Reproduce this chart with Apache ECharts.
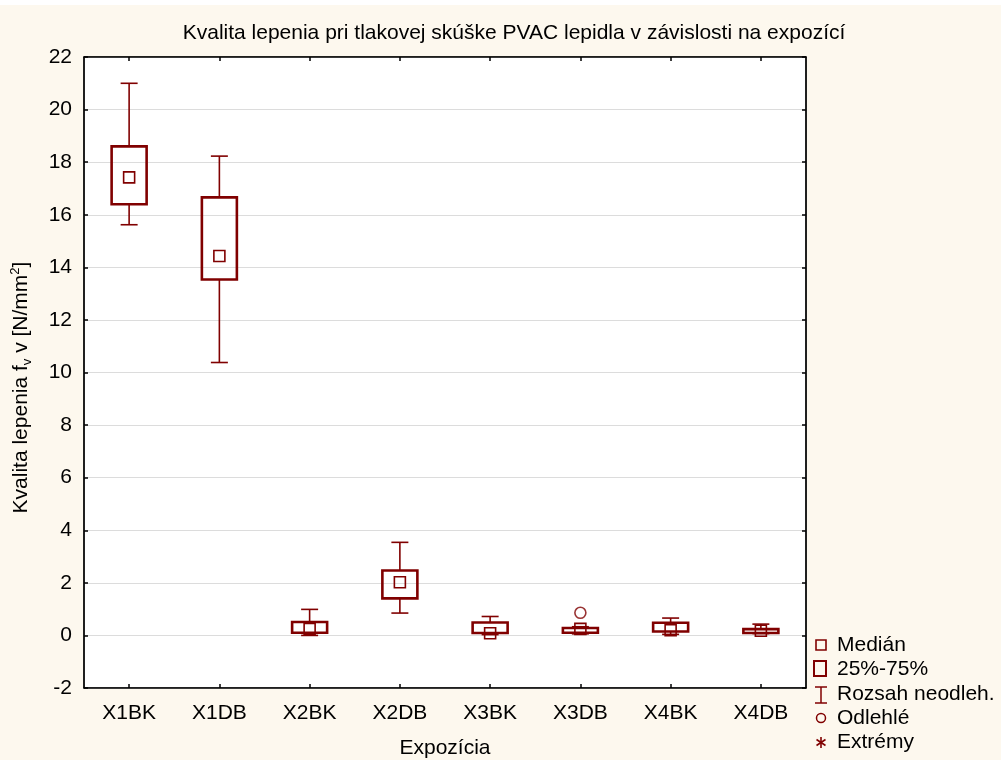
<!DOCTYPE html>
<html><head><meta charset="utf-8">
<script src="https://cdn.jsdelivr.net/npm/echarts@6/dist/echarts.min.js"></script>
<style>html,body{margin:0;padding:0;background:#fdf8ee}#c{width:1001px;height:760px}</style>
</head><body><div id="c"></div>
<script>
const categories = ['X1BK','X1DB','X2BK','X2DB','X3BK','X3DB','X4BK','X4DB'];
const whiskerLow  = [15.62, 10.38, 0.00, 0.85, 0.03, 0.06, 0.04, 0.07];
const q1          = [16.40, 13.54, 0.10, 1.41, 0.09, 0.10, 0.15, 0.09];
const median      = [17.42, 14.43, 0.25, 2.02, 0.08, 0.25, 0.20, 0.18];
const q3          = [18.60, 16.66, 0.51, 2.47, 0.49, 0.28, 0.48, 0.24];
const whiskerHigh = [21.00, 18.23, 0.99, 3.54, 0.72, 0.33, 0.66, 0.43];
const outliers    = [['X3DB', 0.86]];
const yTicks = {min: -2, max: 22, interval: 2};

const RED = '#800000';
const FONT = 'Liberation Sans, Arial, sans-serif';
const FS = 21;
const boxData = categories.map((c, i) => [i, whiskerLow[i], q1[i], median[i], q3[i], whiskerHigh[i]]);

function renderBox(params, api) {
  const i = api.value(0);
  const pLow = api.coord([i, api.value(1)]);
  const pQ1 = api.coord([i, api.value(2)]);
  const pMed = api.coord([i, api.value(3)]);
  const pQ3 = api.coord([i, api.value(4)]);
  const pHigh = api.coord([i, api.value(5)]);
  const x = pMed[0];
  const bw = 35, cw = 17, ms = 11;
  const thin = {stroke: RED, lineWidth: 1.6, fill: null};
  return {
    type: 'group',
    children: [
      {type: 'line', shape: {x1: x, y1: pHigh[1], x2: x, y2: pQ3[1]}, style: thin},
      {type: 'line', shape: {x1: x - cw/2, y1: pHigh[1], x2: x + cw/2, y2: pHigh[1]}, style: thin},
      {type: 'line', shape: {x1: x, y1: pQ1[1], x2: x, y2: pLow[1]}, style: thin},
      {type: 'line', shape: {x1: x - cw/2, y1: pLow[1], x2: x + cw/2, y2: pLow[1]}, style: thin},
      {type: 'rect', shape: {x: x - bw/2, y: pQ3[1], width: bw, height: pQ1[1] - pQ3[1]},
       style: {stroke: RED, lineWidth: 2.6, fill: 'rgba(255,255,255,0)'}},
      {type: 'rect', shape: {x: x - ms/2, y: pMed[1] - ms/2, width: ms, height: ms},
       style: {stroke: RED, lineWidth: 1.6, fill: null}}
    ]
  };
}

const chart = echarts.init(document.getElementById('c'), null, {renderer: 'canvas'});
const lx = 815, tx = 837;
chart.setOption({
  backgroundColor: '#fdf8ee',
  animation: false,
  title: {
    text: 'Kvalita lepenia pri tlakovej skúške PVAC lepidla v závislosti na expozící',
    left: 509, top: 18, textAlign: 'center',
    textStyle: {fontFamily: FONT, fontSize: FS, fontWeight: 'normal', color: '#000'}
  },
  grid: {left: 84, top: 57, right: 195, bottom: 72, containLabel: false, outerBoundsMode: 'none',
         show: true, backgroundColor: '#fff', borderColor: '#000', borderWidth: 1},
  xAxis: [{
    type: 'category', data: categories, position: 'bottom',
    axisLine: {show: true, onZero: false, lineStyle: {color: '#000', width: 1.5}},
    axisTick: {show: true, inside: true, alignWithLabel: true, length: 4, lineStyle: {color: '#000', width: 1.5}},
    axisLabel: {fontFamily: FONT, fontSize: FS, color: '#000', margin: 15},
    name: 'Expozícia', nameLocation: 'middle', nameGap: 50,
    nameTextStyle: {fontFamily: FONT, fontSize: FS, color: '#000'}
  }, {
    type: 'category', data: categories, position: 'top',
    axisLine: {show: true, onZero: false, lineStyle: {color: '#000', width: 1.5}},
    axisTick: {show: true, inside: true, alignWithLabel: true, length: 4, lineStyle: {color: '#000', width: 1.5}},
    axisLabel: {show: false}
  }],
  yAxis: [{
    type: 'value', min: yTicks.min, max: yTicks.max, interval: yTicks.interval, position: 'left',
    axisLine: {show: true, onZero: false, lineStyle: {color: '#000', width: 1.5}},
    axisTick: {show: true, inside: true, length: 4, lineStyle: {color: '#000', width: 1.5}},
    axisLabel: {fontFamily: FONT, fontSize: FS, color: '#000', margin: 12},
    splitLine: {show: true, lineStyle: {color: '#dcdcdc', width: 1}},
    name: '{a|Kvalita lepenia f}{sub|v}{a| v [N/mm}{sup|2}{a|]}',
    nameLocation: 'middle', nameGap: 50, nameRotate: 90,
    nameTextStyle: {
      fontFamily: FONT, fontSize: 21, color: '#000', padding: [0, 30, 0, 0],
      rich: {
        a: {fontFamily: FONT, fontSize: 21, color: '#000', verticalAlign: 'middle'},
        sub: {fontFamily: FONT, fontSize: 13, color: '#000', verticalAlign: 'bottom', padding: [10, 0, 0, 0]},
        sup: {fontFamily: FONT, fontSize: 13, color: '#000', verticalAlign: 'top', padding: [0, 0, 12, 0]}
      }
    }
  }, {
    type: 'value', min: yTicks.min, max: yTicks.max, interval: yTicks.interval, position: 'right',
    axisLine: {show: true, onZero: false, lineStyle: {color: '#000', width: 1.5}},
    axisTick: {show: true, inside: true, length: 4, lineStyle: {color: '#000', width: 1.5}},
    axisLabel: {show: false}, splitLine: {show: false}
  }],
  series: [{
    type: 'custom', renderItem: renderBox, data: boxData, xAxisIndex: 0, yAxisIndex: 0,
    encode: {x: 0, y: [1, 2, 3, 4, 5]}, z: 5
  }, {
    type: 'scatter', data: outliers, xAxisIndex: 0, yAxisIndex: 0, symbol: 'circle', symbolSize: 11,
    itemStyle: {color: 'rgba(255,255,255,0)', borderColor: RED, borderWidth: 1.6}, z: 6
  }],
  graphic: [
    {type: 'rect', left: 0, top: 0, shape: {width: 1001, height: 5}, style: {fill: '#fff'}, silent: true},
    {type: 'rect', shape: {x: lx + 1, y: 640, width: 10, height: 10}, style: {stroke: RED, lineWidth: 1.6, fill: null}},
    {type: 'text', x: tx, y: 645, style: {text: 'Medián', fontFamily: FONT, fontSize: FS, fill: '#000', textVerticalAlign: 'middle'}},
    {type: 'rect', shape: {x: lx - 1, y: 661, width: 12, height: 15}, style: {stroke: RED, lineWidth: 2, fill: null}},
    {type: 'text', x: tx, y: 669, style: {text: '25%-75%', fontFamily: FONT, fontSize: FS, fill: '#000', textVerticalAlign: 'middle'}},
    {type: 'line', shape: {x1: lx, y1: 687, x2: lx + 12, y2: 687}, style: {stroke: RED, lineWidth: 1.5}},
    {type: 'line', shape: {x1: lx + 6, y1: 687, x2: lx + 6, y2: 703}, style: {stroke: RED, lineWidth: 1.5}},
    {type: 'line', shape: {x1: lx, y1: 703, x2: lx + 12, y2: 703}, style: {stroke: RED, lineWidth: 1.5}},
    {type: 'text', x: tx, y: 694, style: {text: 'Rozsah neodleh.', fontFamily: FONT, fontSize: FS, fill: '#000', textVerticalAlign: 'middle'}},
    {type: 'circle', shape: {cx: lx + 6, cy: 718, r: 4.5}, style: {stroke: RED, lineWidth: 1.5, fill: null}},
    {type: 'text', x: tx, y: 718, style: {text: 'Odlehlé', fontFamily: FONT, fontSize: FS, fill: '#000', textVerticalAlign: 'middle'}},
    {type: 'line', shape: {x1: lx + 6, y1: 737, x2: lx + 6, y2: 748}, style: {stroke: RED, lineWidth: 1.6}},
    {type: 'line', shape: {x1: lx + 1.5, y1: 739.5, x2: lx + 10.5, y2: 745.5}, style: {stroke: RED, lineWidth: 1.6}},
    {type: 'line', shape: {x1: lx + 1.5, y1: 745.5, x2: lx + 10.5, y2: 739.5}, style: {stroke: RED, lineWidth: 1.6}},
    {type: 'text', x: tx, y: 742, style: {text: 'Extrémy', fontFamily: FONT, fontSize: FS, fill: '#000', textVerticalAlign: 'middle'}}
  ]
});
</script>
</body></html>
